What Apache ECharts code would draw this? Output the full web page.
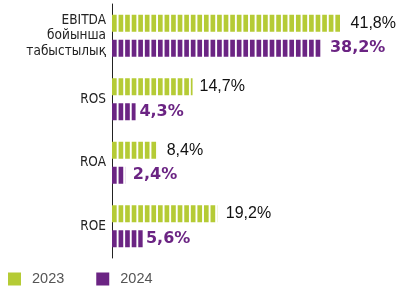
<!DOCTYPE html>
<html><head><meta charset="utf-8">
<script src="https://cdn.jsdelivr.net/npm/echarts@6/dist/echarts.min.js"></script>
<style>html,body{margin:0;padding:0;background:#fff}#c{width:406px;height:292px}</style>
</head><body><div id="c"></div>
<script>
const categories = ['EBITDA\nбойынша\nтабыстылық', 'ROS', 'ROA', 'ROE'];
const values2023 = [41.8, 14.7, 8.4, 19.2];
const values2024 = [38.2, 4.3, 2.4, 5.6];
const seriesNames = ['2023', '2024'];
const GREEN = '#b5cb35';
const PURPLE = '#6b2483';
const XMAX = 50;
const fmt = p => String(p.value).replace('.', ',') + '%';
const chart = echarts.init(document.getElementById('c'), null, {renderer: 'canvas'});
function mk(name, data, color, label) {
  return {
    name, type: 'pictorialBar', data,
    symbol: 'rect', symbolRepeat: true, symbolClip: true,
    symbolBoundingData: XMAX, symbolSize: [4.67, 17], symbolMargin: 1,
    barWidth: 17, barGap: '47%',
    itemStyle: {color},
    label: Object.assign({show: true, position: 'right', formatter: fmt}, label)
  };
}
chart.setOption({
  animation: false,
  grid: {left: 112, right: 20, top: 4, height: 254},
  legend: {
    left: 8, top: 271.5, padding: 0, icon: 'rect', itemWidth: 13, itemHeight: 13, itemGap: 32,
    textStyle: {color: '#555', fontSize: 14.5, fontFamily: 'Liberation Sans', padding: [0, 0, 0, 6]},
    data: seriesNames
  },
  xAxis: {type: 'value', min: 0, max: XMAX, show: false, splitLine: {show: false}},
  yAxis: {
    type: 'category', data: categories, inverse: true,
    axisLine: {show: true, lineStyle: {color: '#222', width: 1}},
    axisTick: {show: false},
    axisLabel: {margin: 6, color: '#222', fontSize: 13.5, lineHeight: 15.5, fontFamily: 'DejaVu Sans Condensed', padding: [2, 0, 0, 0]}
  },
  series: [
    mk(seriesNames[0], values2023, GREEN, {distance: 4, color: '#111', fontSize: 16, fontFamily: 'Liberation Sans'}),
    mk(seriesNames[1], values2024, PURPLE, {distance: 3, color: PURPLE, fontSize: 16, fontWeight: 'bold', fontFamily: 'DejaVu Sans'})
  ]
});
</script></body></html>
